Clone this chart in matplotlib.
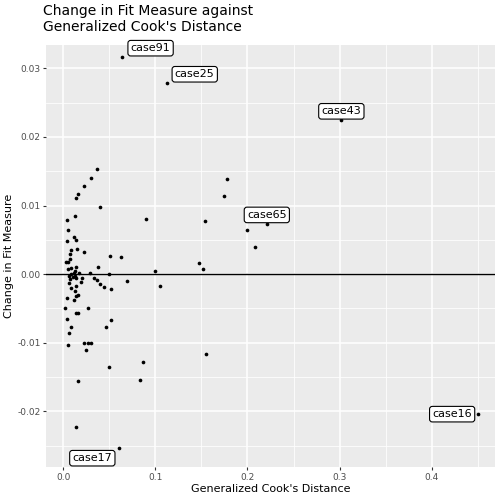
import matplotlib
matplotlib.use("Agg")
import matplotlib.pyplot as plt

gcd = [0.036,0.030,0.0225,0.016,0.0138,0.040,0.013,0.090,0.0043,0.005,0.0116,0.0138,0.0043,0.0087,0.0152,
       0.0225,0.051,0.0627,0.0076,0.0068,0.0022,0.0047,0.038,0.0047,0.0079,0.0141,0.0123,0.100,0.049,0.0174,
       0.0293,0.0203,0.0141,0.0185,0.0068,0.0337,0.0366,0.0685,0.1054,0.0065,0.0138,0.040,0.0442,0.052,0.0087,
       0.0127,0.0163,0.0134,0.004,0.0116,0.0018,0.0268,0.0138,0.0163,0.004,0.0518,0.0457,0.0087,0.0065,0.0054,
       0.0225,0.0264,0.0304,0.0247,0.0859,0.0497,0.0837,0.0163,0.0138,0.0605,
       0.006,0.008,0.010,0.011,0.012,
       0.178,0.174,0.154,0.200,0.208,0.221,0.147,0.152,0.155,0.064,0.112,0.302,0.450]
cfm = [0.0154,0.0140,0.0129,0.0117,0.0111,0.0098,0.0085,0.0080,0.0079,0.0064,0.0054,0.0050,0.0048,0.0035,0.0037,
       0.0032,0.0027,0.0025,0.0029,0.0022,0.0018,0.0018,0.0011,0.0008,0.0009,0.0011,0.0005,0.0005,0.0,0.0001,
       0.0001,-0.0005,-0.0006,-0.0011,-0.0007,-0.0005,-0.0008,-0.0010,-0.0017,-0.0013,-0.0017,-0.0014,-0.0018,-0.0021,-0.0020,
       -0.0025,-0.0030,-0.0032,-0.0034,-0.0037,-0.0049,-0.0049,-0.0056,-0.0056,-0.0065,-0.0067,-0.0077,-0.0077,-0.0085,-0.0103,
       -0.0100,-0.0100,-0.0100,-0.0110,-0.0128,-0.0135,-0.0154,-0.0155,-0.0223,-0.0254,
       -0.0002,0.0,-0.0004,0.0002,-0.0003,
       0.0138,0.0114,0.0077,0.0064,0.0039,0.0073,0.0016,0.0007,-0.0116,0.0316,0.0278,0.0224,-0.0204]
labels = ["case91","case25","case43","case65","case16","case17"]
lab_x = [0.064,0.112,0.302,0.221,0.450,0.0605]
lab_y = [0.0316,0.0278,0.0224,0.0073,-0.0204,-0.0254]
offs = [(6,3,"left"),(6,3,"left"),(0,3,"center"),(0,3,"center"),(-4,0,"right"),(-5,-7,"right")]

fig = plt.figure(figsize=(5.04,5.04), dpi=100)
ax = fig.add_axes([46/504, 1-467/504, (495-46)/504, (467-45)/504])
ax.set_facecolor("#EBEBEB")
for s in ax.spines.values(): s.set_visible(False)
ax.set_xlim(-0.019,0.469)
ax.set_ylim(-0.0281,0.0334)
ax.set_xticks([0,0.1,0.2,0.3,0.4]); ax.set_xticklabels(["0.0","0.1","0.2","0.3","0.4"])
ax.set_yticks([-0.02,-0.01,0,0.01,0.02,0.03]); ax.set_yticklabels(["-0.02","-0.01","0.00","0.01","0.02","0.03"])
ax.set_xticks([0.05,0.15,0.25,0.35,0.45], minor=True)
ax.set_yticks([-0.025,-0.015,-0.005,0.005,0.015,0.025], minor=True)
ax.grid(True, which="major", color="white", lw=1.1)
ax.grid(True, which="minor", color="white", lw=0.55)
ax.set_axisbelow(True)
ax.tick_params(which="major", colors="#4D4D4D", labelsize=6.5, length=2.5, pad=1.5, color="#333333")
ax.tick_params(which="minor", length=0)
ax.axhline(0, color="black", lw=1)
ax.scatter(gcd, cfm, s=7, color="black", zorder=3, linewidths=0)
for t, x, y, (dx, dy, ha) in zip(labels, lab_x, lab_y, offs):
    ax.annotate(t, (x, y), xytext=(dx, dy), textcoords="offset points", ha=ha, va="bottom" if dy>0 else "center",
                fontsize=8, bbox=dict(boxstyle="round,pad=0.25", fc="white", ec="black", lw=0.8), zorder=4)
ax.set_xlabel("Generalized Cook's Distance", fontsize=8, labelpad=2)
ax.set_ylabel("Change in Fit Measure", fontsize=8, labelpad=2)
fig.text(43/504, 1-4/504, "Change in Fit Measure against\nGeneralized Cook's Distance", fontsize=10, va="top", ha="left")
fig.savefig("out.png")
